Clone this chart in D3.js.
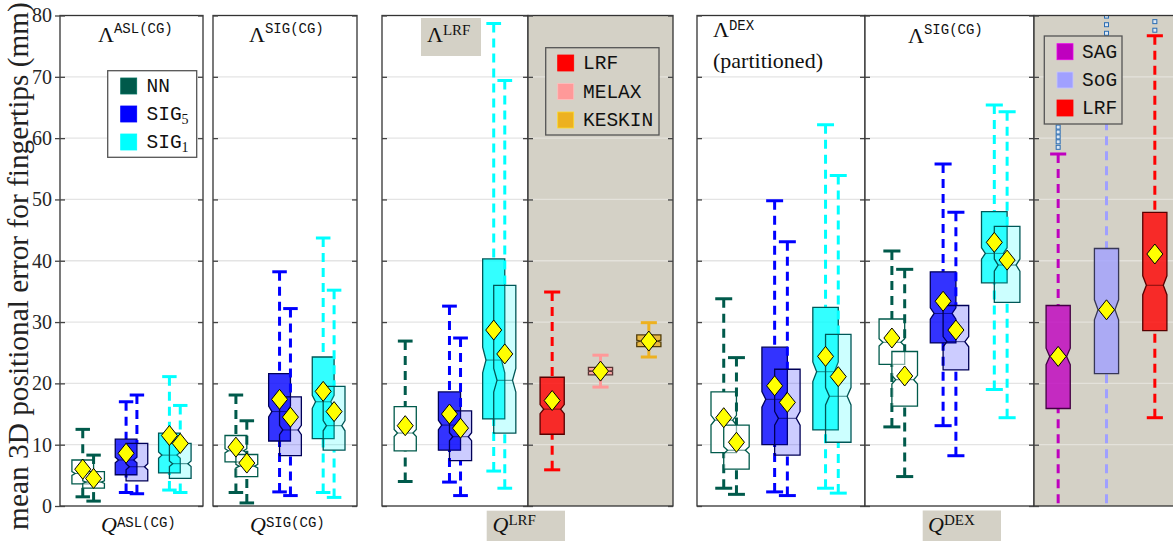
<!DOCTYPE html>
<html>
<head>
<meta charset="utf-8">
<script src="https://cdn.jsdelivr.net/npm/d3@7"></script>
<style>
  body { margin: 0; background: #fff; }
  svg { display: block; }
</style>
</head>
<body>
<svg id="chart" width="1173" height="541"></svg>
<script>
// --- data ---
// each box: [whisker low, q1, median, q3, whisker high, mean]
const yTicks = [0, 10, 20, 30, 40, 50, 60, 70, 80];

const lambdaGroups = ["NN", "SIG5", "SIG1"];
const lrfGroups = ["LRF", "MELAX", "KESKIN"];
const handGroups = ["SAG", "SoG", "LRF"];

const aslFirst = [[1.5, 3.6, 5.3, 7.5, 12.5, 6.0], [2.2, 5.1, 7.5, 10.9, 17.0, 8.6], [2.6, 5.4, 8.3, 11.9, 21.1, 11.5]];
const aslSecond = [[0.8, 2.9, 3.9, 5.6, 8.3, 4.5], [2.0, 4.1, 6.4, 10.2, 18.1, null], [2.2, 4.5, 6.9, 10.2, 16.4, 10.2]];

const sigFirst = [[2.2, 7.2, 9.0, 11.5, 18.1, 9.6], [2.3, 10.6, 15.4, 21.6, 38.2, 17.4], [2.2, 11.0, 17.0, 24.3, 43.7, 18.7]];
const sigSecond = [[0.5, 4.8, 6.5, 8.4, 13.9, 7.0], [1.7, 8.2, 12.4, 17.8, 32.2, 14.5], [1.4, 9.1, 13.1, 19.5, 35.2, 15.4]];

const lrfFirst = [[4.0, 9.0, 11.9, 16.2, 26.9, 13.1], [3.9, 9.1, 13.2, 18.6, 32.6, 15.0], [5.7, 14.2, 23.8, 40.3, 78.7, 28.7]];
const lrfSecond = [null, [1.7, 7.4, 11.3, 15.5, 27.4, 12.7], [2.9, 11.9, 20.5, 36.0, 69.4, 24.8]];
const lrfMethods = [[5.9, 11.7, 15.8, 21.0, 34.9, 17.2], [19.4, 21.4, 22.0, 22.6, 24.6, 22.0], [24.3, 26.0, 26.9, 27.9, 29.9, 26.9]];

const dexFirst = [[2.9, 8.7, 14.0, 18.6, 33.8, 14.4], [2.3, 10.0, 17.4, 25.9, 49.8, 19.6], [2.9, 12.4, 21.9, 32.4, 62.2, 24.4]];
const dexSecond = [[1.9, 6.0, 9.1, 13.2, 24.2, 10.4], [1.7, 8.3, 14.3, 22.3, 43.1, 16.9], [2.1, 10.4, 17.9, 28.0, 53.9, 21.1]];

const dexSigFirst = [[12.9, 23.1, 26.7, 30.5, 41.6, 27.4], [13.1, 26.6, 31.4, 38.2, 55.8, 33.4], [19.0, 36.4, 41.2, 48.0, 65.4, 43.0]];
const dexSigSecond = [[4.8, 16.3, 20.6, 25.2, 38.6, 21.2], [8.2, 22.2, 26.8, 32.7, 47.9, 28.7], [14.4, 33.2, 39.3, 45.6, 64.3, 40.1]];

const handStats = [[-2, 15.9, 24.4, 32.7, 57.4, 24.4], [-2, 21.6, 32.0, 42.0, 75.0, 32.0], [14.4, 28.6, 36.0, 47.9, 76.7, 41.1]];
const handOutliers = [[58.5, 59.4, 60.2, 61.0, 61.8], [77.1, 78.5, 79.9], [77.6, 79.0]];

const lambdaColors = ["#005a4b", "#0000ff", "#00ffff"];
const lrfColors = ["#ff0000", "#ff9999", "#edb120"];
const handColors = ["#bf00bf", "#a0a0ff", "#ff0000"];

// --- setup ---
const SERIF = "'Liberation Serif', 'DejaVu Serif', serif";
const MONO = "'Liberation Mono', 'DejaVu Sans Mono', monospace";
const GREY = "#d4d1c6";

const svg = d3.select("#chart");
const y = d3.scaleLinear().domain([0, 80]).range([506, 15.5]);

const panels = [
  { x0: 60, x1: 203, dom: [0.35, 3.65], bg: "#fff", sets: [aslFirst, aslSecond], colors: lambdaColors },
  { x0: 213, x1: 357, dom: [0.35, 3.65], bg: "#fff", sets: [sigFirst, sigSecond], colors: lambdaColors },
  { x0: 382, x1: 528, dom: [0.35, 3.65], bg: "#fff", sets: [lrfFirst, lrfSecond], colors: lambdaColors },
  { x0: 528, x1: 673, dom: [0.5, 3.5], bg: GREY, sets: [lrfMethods], colors: lrfColors },
  { x0: 697, x1: 865, dom: [0.35, 3.65], bg: "#fff", sets: [dexFirst, dexSecond], colors: lambdaColors },
  { x0: 865, x1: 1034, dom: [0.35, 3.65], bg: "#fff", sets: [dexSigFirst, dexSigSecond], colors: lambdaColors },
  { x0: 1034, x1: 1179, dom: [0.5, 3.5], bg: GREY, sets: [handStats], colors: handColors, outliers: handOutliers }
];

function notchPath(cx, hw, s) {
  const [lo, q1, md, q3] = s;
  const nh = 0.08 * (q3 - q1), ins = 0.3 * hw;
  const yb = y(q1), yt = y(q3), ym = y(md), ynl = y(md - nh), ynh = y(md + nh);
  return `M${cx - hw},${yb}L${cx - hw},${ynl}L${cx - hw + ins},${ym}L${cx - hw},${ynh}L${cx - hw},${yt}` +
         `L${cx + hw},${yt}L${cx + hw},${ynh}L${cx + hw - ins},${ym}L${cx + hw},${ynl}L${cx + hw},${yb}Z`;
}

function drawBox(g, x, pos, s, color, opacity, isNN) {
  const [lo, q1, md, q3, hi] = s;
  const cx = x(pos), hw = x(pos + 0.25) - cx, cap = x(pos + 1 / 6) - cx;
  // whiskers start at the caps
  [[hi, q3], [lo, q1]].forEach(([a, b]) => {
    g.append("line").attr("x1", cx).attr("x2", cx).attr("y1", y(a)).attr("y2", y(b))
      .attr("stroke", color).attr("stroke-width", 3).attr("stroke-dasharray", "9,6");
    g.append("line").attr("x1", cx - cap).attr("x2", cx + cap).attr("y1", y(a)).attr("y2", y(a))
      .attr("stroke", color).attr("stroke-width", 3);
  });
  const edge = isNN ? color : d3.rgb(color).darker(3).formatHex();
  g.append("path").attr("d", notchPath(cx, hw, s))
    .attr("fill", isNN ? "#fff" : color).attr("fill-opacity", isNN ? (opacity > 0.5 ? 0.85 : 0.5) : opacity)
    .attr("stroke", edge).attr("stroke-width", 1.3);
  g.append("line").attr("x1", cx - hw * 0.7).attr("x2", cx + hw * 0.7).attr("y1", y(md)).attr("y2", y(md))
    .attr("stroke", edge).attr("stroke-width", 0.9).attr("stroke-opacity", 0.8);
}

function diamond(g, cx, cy) {
  g.append("path").attr("d", `M${cx},${cy - 10}L${cx + 8},${cy}L${cx},${cy + 10}L${cx - 8},${cy}Z`)
    .attr("fill", "#ffff00").attr("stroke", "#000").attr("stroke-width", 1);
}

panels.forEach((p, i) => {
  const x = d3.scaleLinear().domain(p.dom).range([p.x0, p.x1]);
  const clipId = "clip" + i;
  svg.append("clipPath").attr("id", clipId).append("rect")
    .attr("x", p.x0).attr("y", y(80)).attr("width", p.x1 - p.x0).attr("height", y(0) - y(80));
  const g = svg.append("g").attr("clip-path", `url(#${clipId})`);
  g.append("rect").attr("x", p.x0).attr("y", y(80)).attr("width", p.x1 - p.x0).attr("height", y(0) - y(80)).attr("fill", p.bg);
  g.selectAll("line.grid").data(yTicks.slice(1, -1)).join("line").attr("class", "grid")
    .attr("x1", p.x0).attr("x2", p.x1).attr("y1", d => y(d)).attr("y2", d => y(d))
    .attr("stroke", p.bg === "#fff" ? "#e4e4e4" : "#e4e2db").attr("stroke-width", 1.3);

  const paired = p.sets.length === 2;
  const means = [];
  p.sets[0].forEach((_, k) => {
    p.sets.forEach((set, j) => {
      const s = set[k];
      if (!s) return;
      const pos = (k + 1) + (paired ? (j === 0 ? -0.125 : 0.125) : 0);
      const color = p.colors[k];
      drawBox(g, x, pos, s, color, j === 0 ? 0.8 : 0.2, paired && k === 0);
      if (s[5] != null) means.push([x(pos), y(s[5])]);
    });
  });
  if (p.outliers) {
    p.outliers.forEach((vals, k) => {
      g.selectAll(null).data(vals).join("rect")
        .attr("x", x(k + 1) - 2).attr("y", d => y(d) - 2).attr("width", 4).attr("height", 4)
        .attr("fill", "#dde8f4").attr("stroke", "#2b6db3").attr("stroke-width", 1);
    });
  }
  means.forEach(([cx, cy]) => diamond(g, cx, cy));

  // frame + ticks
  svg.append("rect").attr("x", p.x0).attr("y", y(80)).attr("width", p.x1 - p.x0).attr("height", y(0) - y(80))
    .attr("fill", "none").attr("stroke", "#333").attr("stroke-width", 1.3);
  const left = d3.axisLeft(y).tickValues(yTicks).tickSize(-5).tickFormat("");
  const right = d3.axisRight(y).tickValues(yTicks).tickSize(-5).tickFormat("");
  [svg.append("g").attr("transform", `translate(${p.x0},0)`).call(left),
   svg.append("g").attr("transform", `translate(${p.x1},0)`).call(right)].forEach(a => {
    a.select(".domain").remove();
    a.selectAll("line").attr("stroke", "#444").attr("stroke-width", 1.3);
  });
});

// y tick labels and outer ticks on the first panel
const yAxis = svg.append("g").attr("transform", "translate(60,0)")
  .call(d3.axisLeft(y).tickValues(yTicks).tickSize(5).tickPadding(3));
yAxis.select(".domain").remove();
yAxis.selectAll("line").attr("stroke", "#444").attr("stroke-width", 1.3);
yAxis.selectAll("text").style("font-family", SERIF).style("font-size", "20px").attr("fill", "#262626");

// y label, fitted to the span used in the figure
const yl = svg.append("text").attr("transform", "translate(28,266) rotate(-90)")
  .attr("text-anchor", "middle").style("font-family", SERIF).style("font-size", "26px").attr("fill", "#222")
  .text("mean 3D positional error for fingertips (mm)");
yl.style("font-size", (26 * 528 / yl.node().getComputedTextLength()) + "px");

// grey label backgrounds
[[421, 18, 60, 38], [486.7, 510.7, 78.3, 31], [922.7, 510.5, 78.3, 31]].forEach(([bx, by, bw, bh]) => {
  svg.append("rect").attr("x", bx).attr("y", by).attr("width", bw).attr("height", bh).attr("fill", GREY);
});

function mathText(x0, y0, base, sup, supFont, supSize, raise, italic) {
  const t = svg.append("text").attr("x", x0).attr("y", y0).attr("fill", "#111");
  t.append("tspan").text(base).style("font-family", SERIF).style("font-size", "22px")
    .style("font-style", italic ? "italic" : "normal");
  t.append("tspan").attr("dy", -raise).text(sup).style("font-family", supFont).style("font-size", supSize + "px");
  return t;
}

// panel titles
mathText(98, 41.5, "Λ", "ASL(CG)", MONO, 14, 8.5, false);
mathText(249, 41.5, "Λ", "SIG(CG)", MONO, 14, 8.5, false);
mathText(427, 41.5, "Λ", "LRF", SERIF, 15, 7, false);
mathText(713, 37, "Λ", "DEX", MONO, 14, 7, false);
svg.append("text").attr("x", 713).attr("y", 68).text("(partitioned)")
  .style("font-family", SERIF).style("font-size", "22px").attr("fill", "#111");
mathText(908, 42.5, "Λ", "SIG(CG)", MONO, 14, 8.5, false);

// bottom labels
mathText(101, 531.5, "Q", "ASL(CG)", MONO, 14, 5, true);
mathText(250, 531.5, "Q", "SIG(CG)", MONO, 14, 5, true);
mathText(492.5, 532, "Q", "LRF", SERIF, 15, 7, true);
mathText(928, 532, "Q", "DEX", SERIF, 15, 7, true);

// legends
function legend(lx, ly, lw, lh, fill, names, colors, rows, sqX, txtX) {
  svg.append("rect").attr("x", lx).attr("y", ly).attr("width", lw).attr("height", lh)
    .attr("fill", fill).attr("stroke", "#555").attr("stroke-width", 1.3);
  names.forEach((n, i) => {
    const cy = rows[i];
    svg.append("rect").attr("x", sqX).attr("y", cy - 8).attr("width", 16).attr("height", 16)
      .attr("fill", colors[i]).attr("stroke", d3.rgb(colors[i]).brighter(0.6).formatHex()).attr("stroke-width", 0.8);
    const t = svg.append("text").attr("x", txtX).attr("y", cy + 6).attr("fill", "#111")
      .style("font-family", MONO).style("font-size", "19.5px");
    const m = n.match(/^(SIG)(\d)$/);
    if (m) {
      t.append("tspan").text(m[1]);
      t.append("tspan").attr("dy", 4).text(m[2]).style("font-family", SERIF).style("font-size", "14px");
    } else {
      t.text(n);
    }
  });
}
legend(107.7, 70.7, 89, 86.6, "#fff", lambdaGroups, lambdaColors, [86, 114, 142], 120.7, 146.5);
legend(545.7, 47.7, 113.3, 87.3, GREY, lrfGroups, lrfColors, [63, 91.5, 120], 557.7, 583);
legend(1044.3, 36, 77.7, 88, GREY, handGroups, handColors, [51.7, 80, 108], 1057, 1082);
</script>
</body>
</html>
